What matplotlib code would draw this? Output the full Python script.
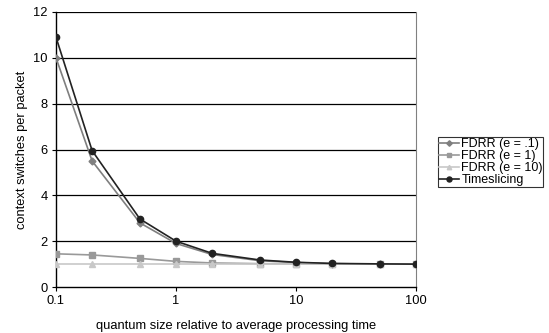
import matplotlib.pyplot as plt

# quantum sizes (relative to average processing time)
quantum = [0.1, 0.2, 0.5, 1, 2, 5, 10, 20, 50, 100]

fdrr_01 = [10.0, 5.5, 2.8, 1.9, 1.42, 1.15, 1.07, 1.02, 1.0, 1.0]
fdrr_1 = [1.45, 1.4, 1.25, 1.12, 1.05, 1.02, 1.01, 1.0, 1.0, 1.0]
fdrr_10 = [1.0, 1.0, 1.0, 1.0, 1.0, 1.0, 1.0, 1.0, 1.0, 1.0]
timeslicing = [10.9, 5.95, 2.97, 2.0, 1.47, 1.18, 1.08, 1.03, 1.01, 1.0]

plt.rcParams['font.family'] = ['Liberation Sans', 'DejaVu Sans']

fig = plt.figure(figsize=(5.49, 3.33), dpi=100)
ax = fig.add_axes([0.102, 0.138, 0.656, 0.826])

ax.set_xscale('log')
ax.set_xlim(0.1, 100)
ax.set_ylim(0, 12)

for y in [2, 4, 6, 8, 10, 12]:
    ax.axhline(y, color='black', lw=0.9, zorder=1)

ax.plot(quantum, fdrr_01, color='#7f7f7f', marker='D', ms=3.5, lw=1.2, label='FDRR (e = .1)', zorder=3)
ax.plot(quantum, fdrr_1, color='#999999', marker='s', ms=4, lw=1.2, label='FDRR (e = 1)', zorder=3)
ax.plot(quantum, fdrr_10, color='#c8c8c8', marker='^', ms=4, lw=1.2, label='FDRR (e = 10)', zorder=3)
ax.plot(quantum, timeslicing, color='#222222', marker='o', ms=4.5, lw=1.2, label='Timeslicing', zorder=4)

ax.set_xticks([0.1, 1, 10, 100])
ax.set_xticklabels(['0.1', '1', '10', '100'])
ax.minorticks_off()
ax.set_yticks(range(0, 13, 2))
ax.tick_params(labelsize=9.3, length=3, width=0.8, direction='out', pad=3)
ax.tick_params(axis='x', pad=3)

ax.spines['top'].set_visible(False)
ax.spines['right'].set_color('#808080')
ax.spines['left'].set_linewidth(1.0)
ax.spines['bottom'].set_linewidth(1.0)

ax.set_xlabel('quantum size relative to average processing time', fontsize=9.3, labelpad=9)
ax.set_ylabel('context switches per packet', fontsize=9.3, labelpad=4)

leg = ax.legend(loc='center left', bbox_to_anchor=(1.061, 0.455), fontsize=9, frameon=True,
                fancybox=False, edgecolor='black', handlelength=1.6, handletextpad=0.2,
                borderpad=0.05, labelspacing=0.0, borderaxespad=0, markerscale=0.8)
leg.get_frame().set_linewidth(0.8)

fig.savefig('out.png', dpi=100)
